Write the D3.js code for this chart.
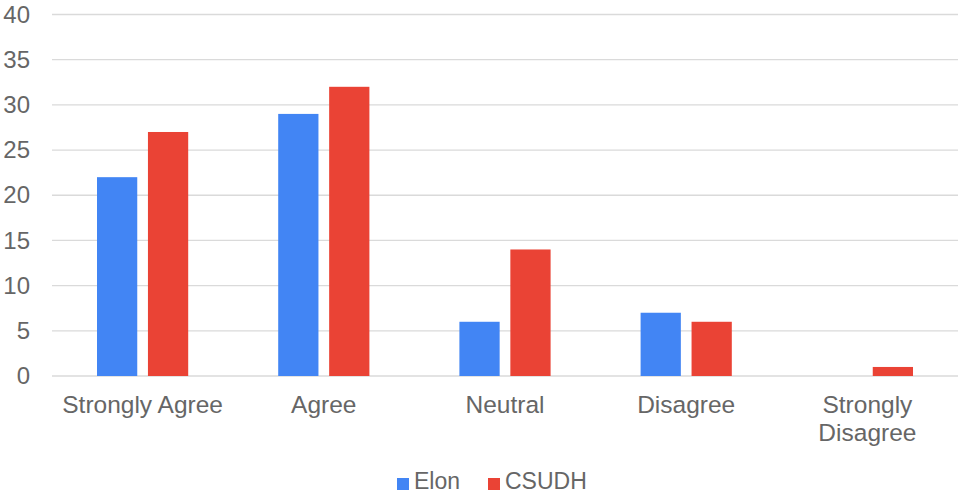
<!DOCTYPE html>
<html>
<head>
<meta charset="utf-8">
<script src="https://cdn.jsdelivr.net/npm/d3@7"></script>
<style>
  html, body { margin: 0; padding: 0; background: #fff; }
  svg { display: block; font-family: "Liberation Sans", Arial, sans-serif; }
</style>
</head>
<body>
<svg id="chart" width="959" height="495"></svg>
<script>
// Survey responses by institution
const categories = ["Strongly Agree", "Agree", "Neutral", "Disagree", "Strongly Disagree"];
const seriesNames = ["Elon", "CSUDH"];
const elonValues = [22, 29, 6, 7, 0];
const csudhValues = [27, 32, 14, 6, 1];
const yTicks = [0, 5, 10, 15, 20, 25, 30, 35, 40];
const colors = ["#4285f4", "#ea4335"];

const seriesValues = [elonValues, csudhValues];
const width = 959, height = 495;
const margin = { top: 14.5, right: 1, bottom: 119, left: 52 };

const svg = d3.select("#chart");
const plotW = width - margin.left - margin.right;
const plotH = height - margin.top - margin.bottom;
const g = svg.append("g").attr("transform", `translate(${margin.left},${margin.top})`);

const x0 = d3.scaleBand().domain(categories).range([0, plotW]).paddingInner(0).paddingOuter(0);
const x1 = d3.scaleBand().domain(seriesNames).range([45, x0.bandwidth() - 45]).paddingInner(0.21);
const y = d3.scaleLinear().domain([0, 40]).range([plotH, 0]);

// Horizontal gridlines
g.append("g")
  .selectAll("line")
  .data(yTicks)
  .join("line")
  .attr("x1", 0)
  .attr("x2", plotW)
  .attr("y1", d => y(d))
  .attr("y2", d => y(d))
  .attr("stroke", "#dadada")
  .attr("stroke-width", 1.3);

// Y axis labels
const yAxis = d3.axisLeft(y).tickValues(yTicks).tickSize(0).tickPadding(22);
const yg = g.append("g").call(yAxis);
yg.select(".domain").remove();
yg.selectAll("text")
  .attr("font-size", 24)
  .attr("fill", "#666")
  .attr("font-family", "Liberation Sans, Arial, sans-serif");

// Bars
const groups = g.append("g")
  .selectAll("g")
  .data(categories)
  .join("g")
  .attr("transform", d => `translate(${x0(d)},0)`);

groups.selectAll("rect")
  .data((d, i) => seriesNames.map((s, j) => ({ s, v: seriesValues[j][i], c: colors[j] })))
  .join("rect")
  .attr("x", d => x1(d.s))
  .attr("width", x1.bandwidth())
  .attr("y", d => y(d.v))
  .attr("height", d => y(0) - y(d.v))
  .attr("fill", d => d.c);

// Category labels (wrapped onto two lines where they would collide)
const xAxis = d3.axisBottom(x0).tickSize(0).tickPadding(0);
const xg = g.append("g").attr("transform", `translate(0,${plotH})`).call(xAxis);
xg.select(".domain").remove();
xg.selectAll("text").remove();
xg.selectAll(".tick").each(function(d) {
  const lines = d === "Strongly Disagree" ? ["Strongly", "Disagree"] : [d];
  const t = d3.select(this).append("text")
    .attr("text-anchor", "middle")
    .attr("font-size", 24.5)
    .attr("fill", "#666");
  lines.forEach((ln, i) => {
    t.append("tspan").attr("x", 0).attr("y", 37 + i * 28).text(ln);
  });
});

// Legend
const legend = svg.append("g").attr("transform", "translate(397,0)");
const legendItems = [
  { name: seriesNames[0], color: colors[0], x: 0 },
  { name: seriesNames[1], color: colors[1], x: 91 }
];
legendItems.forEach(item => {
  legend.append("rect")
    .attr("x", item.x)
    .attr("y", 478)
    .attr("width", 12)
    .attr("height", 12)
    .attr("fill", item.color);
  legend.append("text")
    .attr("x", item.x + 17)
    .attr("y", 489)
    .attr("font-size", 23)
    .attr("fill", "#666")
    .text(item.name);
});
</script>
</body>
</html>
